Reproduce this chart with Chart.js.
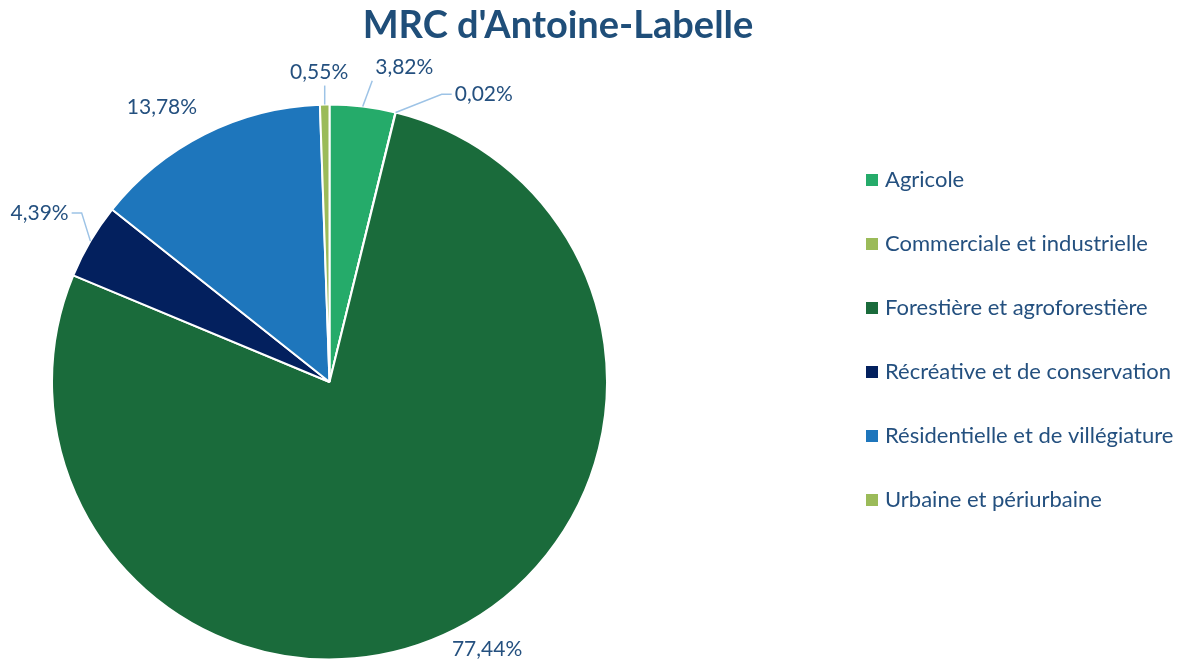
<!DOCTYPE html>
<html>
<head>
<meta charset="utf-8">
<script src="https://cdn.jsdelivr.net/npm/chart.js@4/dist/chart.umd.min.js"></script>
<style>
  body { margin: 0; background: #fff; }
  #wrap { width: 1184px; height: 661px; position: relative; }
</style>
</head>
<body>
<div id="wrap"><canvas id="pieChart"></canvas></div>
<script>
var categories = [
  "Agricole",
  "Commerciale et industrielle",
  "Forestière et agroforestière",
  "Récréative et de conservation",
  "Résidentielle et de villégiature",
  "Urbaine et périurbaine"
];
var shares = [3.82, 0.02, 77.44, 4.39, 13.78, 0.55];
var sliceColors = ["#25AB6A", "#9BBB59", "#1A6B3B", "#03205E", "#1E76BC", "#9BBB59"];

// label placement tweaks (px) and which labels get a leader line
var labelNudge = [[38, -9], [81, 11], [19, -7], [-25, -13], [-29, 0], [-5, -2]];
var hasLeader = [true, true, false, true, false, true];

var textColor = "#24507F";
var leaderColor = "#9DC3E6";
var ctx = document.getElementById("pieChart").getContext("2d");

function fmt(v) { return v.toFixed(2).replace(".", ",") + "%"; }

var titlePlugin = {
  id: "titleText",
  afterDraw(chart) {
    var c = chart.ctx;
    c.save();
    c.font = "bold 38px Lato";
    c.fillStyle = "#1F4E79";
    c.textAlign = "center";
    c.textBaseline = "alphabetic";
    c.fillText("MRC d'Antoine-Labelle", 558, 38);
    c.restore();
  }
};

var legendPlugin = {
  id: "sideLegend",
  afterDraw(chart) {
    var c = chart.ctx;
    c.save();
    c.font = "22px Lato";
    c.textBaseline = "middle";
    categories.forEach((name, i) => {
      var y = 180 + i * 64;
      c.fillStyle = sliceColors[i];
      c.fillRect(866, y - 6, 12, 12);
      c.fillStyle = textColor;
      c.fillText(name, 885, y);
    });
    c.restore();
  }
};

var labelPlugin = {
  id: "sliceLabels",
  afterDatasetsDraw(chart) {
    var c = chart.ctx;
    var meta = chart.getDatasetMeta(0);
    c.save();
    c.font = "21px Lato";
    c.textAlign = "center";
    c.textBaseline = "middle";
    meta.data.forEach((arc, i) => {
      var p = arc.getProps(["x", "y", "startAngle", "endAngle", "outerRadius"], true);
      var mid = (p.startAngle + p.endAngle) / 2;
      var R = p.outerRadius;
      var lx = p.x + (R + 30) * Math.cos(mid) + labelNudge[i][0];
      var ly = p.y + (R + 30) * Math.sin(mid) + labelNudge[i][1];
      var text = fmt(shares[i]);
      var w = c.measureText(text).width;
      if (hasLeader[i]) {
        var sx = p.x + R * Math.cos(mid), sy = p.y + R * Math.sin(mid);
        var left = lx - w / 2 - 3, right = lx + w / 2 + 3;
        var top = ly - 13, bottom = ly + 13;
        c.strokeStyle = leaderColor;
        c.lineWidth = 1.5;
        c.beginPath();
        c.moveTo(sx, sy);
        if (sx < left - 10) {
          c.lineTo(left - 10, ly);
          c.lineTo(left, ly);
        } else if (sx > right + 10) {
          c.lineTo(right + 10, ly);
          c.lineTo(right, ly);
        } else {
          var ex = Math.min(Math.max(sx, left), right);
          c.lineTo(ex, sy > ly ? bottom : top);
        }
        c.stroke();
      }
      c.fillStyle = textColor;
      c.fillText(text, lx, ly);
    });
    c.restore();
  }
};

new Chart(ctx, {
  type: "pie",
  data: {
    labels: categories,
    datasets: [{
      data: shares,
      backgroundColor: sliceColors,
      borderColor: "#ffffff",
      borderWidth: 2,
      hoverOffset: 0
    }]
  },
  options: {
    responsive: true,
    maintainAspectRatio: false,
    animation: false,
    layout: { padding: { top: 103, bottom: 0, left: 51, right: 576 } },
    plugins: {
      legend: { display: false },
      title: { display: false },
      tooltip: { enabled: false }
    }
  },
  plugins: [titlePlugin, legendPlugin, labelPlugin]
});
</script>
</body>
</html>
